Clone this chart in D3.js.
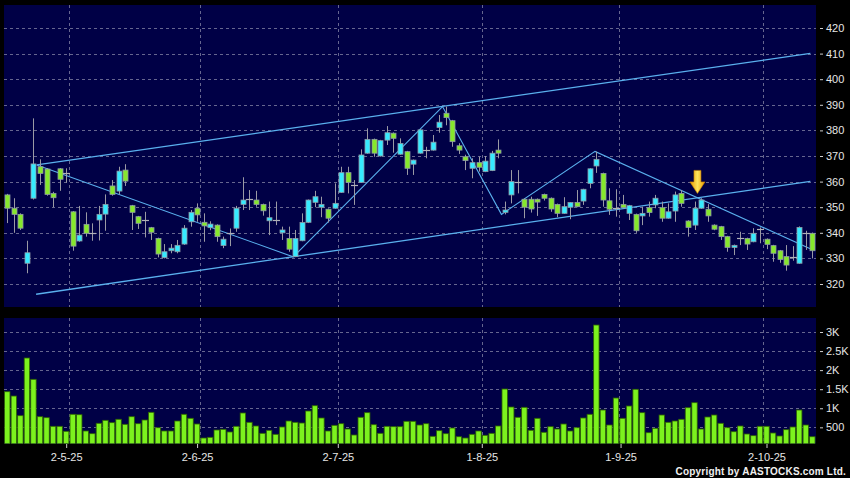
<!DOCTYPE html>
<html><head><meta charset="utf-8">
<script src="https://cdn.jsdelivr.net/npm/d3@7"></script>
<style>html,body{margin:0;padding:0;background:#000;}svg{display:block;}</style>
</head><body><svg id="c" width="850" height="478"></svg>
<script>
const opens  = [354.8,349.6,347.2,328.1,353.5,365.8,364.9,355.4,365.0,363.2,348.2,336.8,343.3,339.8,345.0,347.3,358.3,356.3,364.5,350.6,
346.3,345.0,342.0,337.8,330.3,333.0,332.6,335.6,344.3,349.6,344.1,342.0,343.0,335.0,339.8,341.8,351.1,353.3,352.8,351.1,
344.7,345.0,340.0,337.8,330.7,336.9,344.1,351.9,350.0,349.2,349.6,355.8,363.5,358.7,359.7,371.1,376.5,370.0,376.2,378.9,
370.7,371.7,366.8,371.1,372.3,372.3,381.1,386.7,383.8,374.0,369.7,365.2,367.4,363.9,364.3,372.3,348.0,354.8,360.0,353.1,
353.1,353.1,355.0,353.5,351.1,347.6,350.0,351.8,352.4,359.3,366.1,363.2,352.5,349.8,351.1,347.6,347.2,346.6,349.8,350.9,
349.8,345.7,348.5,355.4,344.6,343.0,349.6,349.2,343.0,342.4,338.5,334.3,338.1,337.8,336.5,341.4,337.5,335.0,333.0,330.7,
330.4,328.1,339.8,339.8];
const highs  = [355.2,353.5,347.6,336.9,384.7,368.7,365.3,356.0,365.3,365.2,348.5,350.5,348.0,343.7,350.5,355.0,360.6,365.8,366.8,350.9,
346.6,348.2,342.3,338.1,335.6,335.6,337.2,343.0,348.9,351.5,347.6,344.5,343.3,338.5,341.7,350.5,361.7,356.7,356.4,351.4,
352.2,352.2,342.4,342.4,341.1,347.6,353.0,356.4,354.1,349.5,359.3,365.8,365.8,360.6,372.6,380.8,376.8,376.3,381.7,379.2,
376.9,372.0,368.6,380.5,373.6,378.2,386.0,389.3,384.1,375.0,370.5,369.1,369.7,370.0,372.0,376.5,352.2,364.5,364.5,353.4,
354.1,353.4,355.3,353.8,351.4,353.9,352.0,356.7,357.2,365.2,371.7,363.5,357.4,357.0,354.8,350.9,347.5,350.2,352.2,354.8,
352.2,351.5,356.1,356.7,344.9,352.2,353.5,351.2,343.3,342.7,338.8,335.4,340.4,338.1,341.8,342.1,337.8,335.3,333.3,335.2,
334.8,342.5,340.8,340.1];
const lows   = [343.8,340.0,341.1,324.2,353.0,358.7,354.5,350.0,356.4,359.6,333.0,336.5,338.5,336.9,337.0,340.8,354.5,355.0,358.3,341.1,
341.5,338.2,337.2,330.4,330.0,332.0,332.0,335.3,342.4,344.3,336.5,341.0,336.5,334.0,334.8,340.4,348.9,348.9,350.2,346.7,
339.1,343.0,337.2,332.6,330.5,336.7,343.8,350.0,346.1,344.0,349.4,355.6,355.4,350.9,359.5,370.9,369.7,369.8,374.3,371.3,
370.5,362.6,362.6,370.9,369.1,372.1,379.1,382.0,373.6,370.8,364.5,361.3,363.9,363.7,364.1,369.1,347.2,351.5,355.4,345.7,
347.9,346.6,352.6,348.2,346.1,347.4,345.3,350.0,350.9,357.4,363.4,350.2,347.0,346.3,349.6,345.0,340.0,343.0,346.3,349.6,
344.3,345.5,344.3,350.2,338.5,341.1,349.4,344.3,341.0,337.2,332.6,331.3,335.2,333.3,336.3,335.9,333.6,328.7,328.3,325.2,
329.1,327.9,333.3,330.0];
const closes = [349.6,347.2,341.8,332.2,366.9,363.2,355.0,353.7,360.9,363.2,334.8,339.1,339.8,339.8,347.2,351.1,355.0,364.1,360.2,348.0,
343.7,345.0,340.2,331.7,332.6,334.0,335.1,341.8,348.0,347.0,342.7,343.4,338.5,337.5,339.8,349.6,352.8,353.3,351.1,348.6,
345.9,345.0,341.1,333.6,337.8,344.0,352.8,354.1,351.1,345.7,351.5,363.5,359.7,358.7,370.4,376.5,371.1,376.0,379.1,376.9,
374.9,365.2,368.4,380.2,372.3,375.4,383.2,385.0,375.6,372.3,368.2,367.4,365.6,368.0,371.1,371.1,348.9,360.0,360.0,350.0,
349.3,352.0,353.5,349.3,347.6,350.2,351.8,350.2,357.0,365.0,368.7,352.8,349.2,349.8,349.8,350.6,340.8,347.6,347.9,353.5,
345.7,348.2,354.8,351.5,342.1,349.6,352.8,346.6,341.4,338.5,334.3,335.1,338.1,335.6,339.8,341.4,335.5,332.0,329.6,327.4,
330.4,342.1,339.8,333.0];
const volumes = [1434,1321,805,2318,1759,779,753,527,527,396,842,831,404,333,606,684,622,711,579,779,
595,692,894,490,404,404,666,842,737,587,220,238,430,448,378,527,876,632,535,343,
422,317,509,666,632,613,928,1067,745,404,553,595,456,299,763,884,569,343,527,517,
517,658,658,561,595,265,412,333,482,254,220,317,404,291,343,535,1505,1033,763,1025,
422,737,370,517,456,587,404,490,745,842,3183,954,561,1269,737,1059,1497,884,359,475,
823,632,666,711,1015,1146,456,771,823,606,490,385,535,325,281,527,527,351,273,438,
509,954,561,254];
const dateLabels = ["2-5-25","2-6-25","2-7-25","1-8-25","1-9-25","2-10-25"];
const dateTickIdx = [9, 29, 50.5, 72.5, 93.7, 116];
const dateGridIdx = [9.5, 29.5, 50.5, 72.5, 93.5, 115.5];
const priceTicks = [320,330,340,350,360,370,380,390,400,410,420];
const volTicks = [500,1000,1500,2000,2500,3000];
const volLabels = ["500","1K","1.5K","2K","2.5K","3K"];
const channelUpper = [[4.5,366.5],[122.7,410.1]];
const channelLower = [[4.4,316.0],[122.7,360.1]];
const zigzag = [[4.5,366.5],[43.7,330.6],[66.5,389.3],[75.5,347.2],[89.8,371.8],[123.1,333.3]];
const arrowPoint = [105.45, 355.4];

const svg = d3.select("#c");
const N = closes.length;
const L = 4, R = 816;
const mainTop = 5, mainBot = 307, volTop = 318, volBot = 443.5;
const x = d3.scaleLinear().domain([-0.5, N - 0.5]).range([L, 815.6]);
const y = d3.scaleLinear().domain([320, 420]).range([284, 28]);
const yv = d3.scaleLinear().domain([0, 3000]).range([446.4, 332]);

svg.append("rect").attr("width",850).attr("height",478).attr("fill","#000");
const defs = svg.append("defs");
defs.append("clipPath").attr("id","cm").append("rect").attr("x",L).attr("y",mainTop).attr("width",R-L).attr("height",mainBot-mainTop);
defs.append("clipPath").attr("id","cv").append("rect").attr("x",L).attr("y",volTop).attr("width",R-L).attr("height",volBot-volTop);
const grad = defs.append("linearGradient").attr("id","ag").attr("x1","0").attr("x2","1").attr("y1","0").attr("y2","0");
grad.append("stop").attr("offset","0").attr("stop-color","#e89a00");
grad.append("stop").attr("offset","0.5").attr("stop-color","#ffe35a");
grad.append("stop").attr("offset","1").attr("stop-color","#e89a00");

const panelFill = "#000046";
svg.append("rect").attr("x",L).attr("y",mainTop).attr("width",R-L).attr("height",mainBot-mainTop).attr("fill",panelFill);
svg.append("rect").attr("x",L).attr("y",volTop).attr("width",R-L).attr("height",volBot-volTop).attr("fill",panelFill);

const gridColor = "#66668f";
const gm = svg.append("g").attr("clip-path","url(#cm)");
gm.selectAll("line.h").data(priceTicks).join("line")
  .attr("x1",L).attr("x2",R).attr("y1",d=>Math.round(y(d))+0.5).attr("y2",d=>Math.round(y(d))+0.5)
  .attr("stroke",gridColor).attr("stroke-dasharray","3,3").attr("stroke-width",1);
gm.selectAll("line.v").data(dateGridIdx).join("line")
  .attr("x1",d=>Math.round(x(d))+0.5).attr("x2",d=>Math.round(x(d))+0.5).attr("y1",mainTop).attr("y2",mainBot)
  .attr("stroke",gridColor).attr("stroke-dasharray","3,3").attr("stroke-width",1);

const gv = svg.append("g").attr("clip-path","url(#cv)");
gv.selectAll("line.h").data(volTicks).join("line")
  .attr("x1",L).attr("x2",R).attr("y1",d=>Math.round(yv(d))+0.5).attr("y2",d=>Math.round(yv(d))+0.5)
  .attr("stroke",gridColor).attr("stroke-dasharray","3,3").attr("stroke-width",1);
gv.selectAll("line.v").data(dateGridIdx).join("line")
  .attr("x1",d=>Math.round(x(d))+0.5).attr("x2",d=>Math.round(x(d))+0.5).attr("y1",volTop).attr("y2",volBot)
  .attr("stroke",gridColor).attr("stroke-dasharray","3,3").attr("stroke-width",1);

// volume bars
gv.selectAll("rect.vb").data(volumes).join("rect")
  .attr("x",(d,i)=>x(i)-2.7).attr("width",5.4)
  .attr("y",d=>yv(d)).attr("height",d=>yv(0)-yv(d))
  .attr("fill","#7cf21e").attr("stroke","#2f6400").attr("stroke-width",0.8);

// trend lines
const line = d3.line().x(d=>x(d[0])).y(d=>y(d[1]));
const tl = gm.append("g").attr("fill","none").attr("stroke","#5ab0ee").attr("stroke-width",1.3);
tl.append("path").attr("d",line(channelUpper));
tl.append("path").attr("d",line(channelLower));
tl.append("path").attr("d",line(zigzag)).attr("stroke-width",1.1);

// candles
const idx = d3.range(N);
const cg = gm.append("g");
cg.selectAll("line.w").data(idx).join("line")
  .attr("x1",i=>Math.round(x(i))+0.5).attr("x2",i=>Math.round(x(i))+0.5)
  .attr("y1",i=>y(highs[i])).attr("y2",i=>y(lows[i]))
  .attr("stroke","#9a9aa4").attr("stroke-width",1);
cg.selectAll("rect.b").data(idx.filter(i=>opens[i]!==closes[i])).join("rect")
  .attr("x",i=>Math.round(x(i))-2).attr("width",5)
  .attr("y",i=>y(Math.max(opens[i],closes[i])))
  .attr("height",i=>Math.max(1,Math.abs(y(opens[i])-y(closes[i]))))
  .attr("fill",i=>closes[i]>opens[i]?"#36eaff":"#86e82c")
  .attr("stroke","#8e9aa6").attr("stroke-width",0.8);
cg.selectAll("line.d").data(idx.filter(i=>opens[i]===closes[i])).join("line")
  .attr("x1",i=>Math.round(x(i))-3).attr("x2",i=>Math.round(x(i))+4)
  .attr("y1",i=>Math.round(y(closes[i]))+0.5).attr("y2",i=>Math.round(y(closes[i]))+0.5)
  .attr("stroke","#b0b0b8").attr("stroke-width",1.2);

// arrow
const ax = x(arrowPoint[0]), ay = y(arrowPoint[1]);
svg.append("path")
  .attr("d",`M${ax},${ay} L${ax-7.5},${ay-11.5} L${ax-3.5},${ay-11.5} L${ax-3.5},${ay-23} L${ax+3.5},${ay-23} L${ax+3.5},${ay-11.5} L${ax+7.5},${ay-11.5} Z`)
  .attr("fill","url(#ag)").attr("stroke","#c88000").attr("stroke-width",0.6);

// axes
const font = "Arial, 'Liberation Sans', sans-serif";
const ya = svg.append("g").attr("transform","translate(820,0)")
  .call(d3.axisRight(y).tickValues(priceTicks).tickSize(3).tickPadding(3).tickFormat(d3.format("d")));
const yva = svg.append("g").attr("transform","translate(820,0)")
  .call(d3.axisRight(yv).tickValues(volTicks).tickSize(3).tickPadding(3).tickFormat((d,i)=>volLabels[i]));
const xa = svg.append("g").attr("transform",`translate(0,${444})`)
  .call(d3.axisBottom(x).tickValues(dateTickIdx).tickSize(4).tickPadding(5).tickFormat((d,i)=>dateLabels[i]));
[ya,yva,xa].forEach(g=>{
  g.select(".domain").remove();
  g.selectAll(".tick line").attr("stroke","#cfcfcf");
  g.selectAll("text").attr("fill","#e6e6e6").style("font-family",font).style("font-size","11px");
});

svg.append("text").attr("x",846).attr("y",475).attr("text-anchor","end")
  .attr("fill","#f0f0f0").style("font-family",font).style("font-size","10px").style("font-weight","bold")
  .style("letter-spacing","0.2px").text("Copyright by AASTOCKS.com Ltd.");
</script>
</body></html>
